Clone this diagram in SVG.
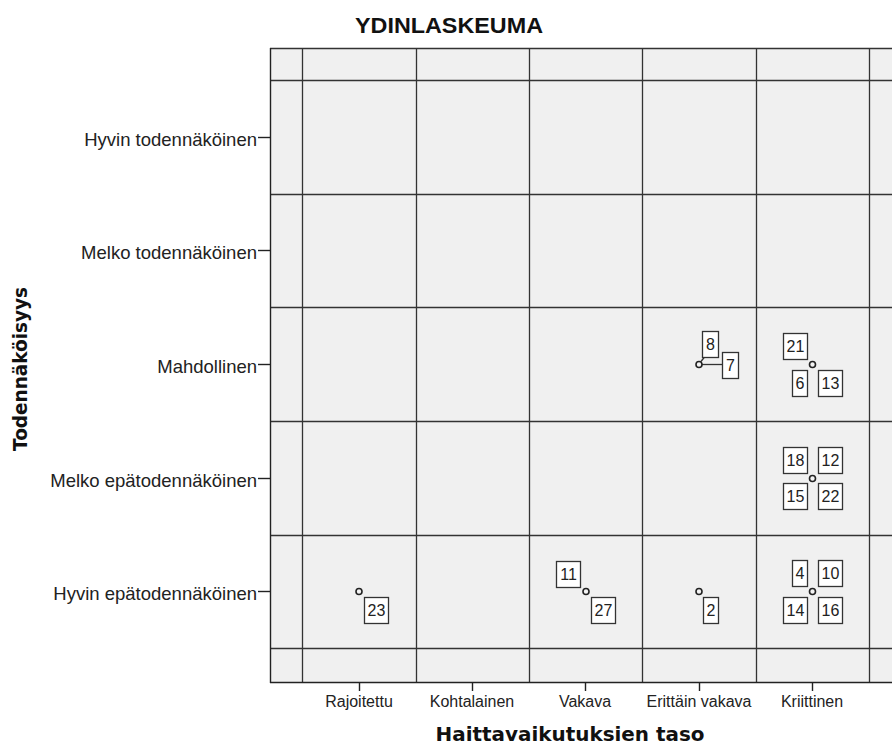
<svg xmlns="http://www.w3.org/2000/svg" width="892" height="745" viewBox="0 0 892 745">
  <style>
    .grid { stroke: #333; stroke-width: 1.3; fill: none; }
    .axis { stroke: #222; stroke-width: 1.4; fill: none; }
    .tick { stroke: #222; stroke-width: 1.4; }
    .rowlab { font-family: "Liberation Sans", Arial, sans-serif; font-size: 18.5px; fill: #222; text-anchor: end; }
    .collab { font-family: "Liberation Sans", Arial, sans-serif; font-size: 16px; fill: #222; text-anchor: middle; }
    .title { font-family: "Liberation Sans", Arial, sans-serif; font-size: 22.5px; font-weight: bold; fill: #111; text-anchor: middle; }
    .axtitle { font-family: "DejaVu Sans", Verdana, sans-serif; font-size: 19.5px; font-weight: bold; fill: #111; text-anchor: middle; }
    .pt { fill: #f4f4f4; stroke: #222; stroke-width: 1.6; }
    .box rect { fill: #ffffff; stroke: #333; stroke-width: 1.3; }
    .box text { font-family: "Liberation Sans", Arial, sans-serif; font-size: 16px; fill: #222; text-anchor: middle; }
    .lead { stroke: #333; stroke-width: 1.3; }
  </style>

  <!-- title -->
  <text class="title" x="449" y="33" textLength="188" lengthAdjust="spacingAndGlyphs">YDINLASKEUMA</text>

  <!-- plot area -->
  <g id="plot">
    <rect x="270" y="48" width="622" height="634" fill="#f0f0f0"/>
    <g class="grid">
      <line x1="270" y1="48.5" x2="892" y2="48.5"/>
      <line x1="270" y1="80.5" x2="892" y2="80.5"/>
      <line x1="270" y1="194.5" x2="892" y2="194.5"/>
      <line x1="270" y1="307.5" x2="892" y2="307.5"/>
      <line x1="270" y1="421.5" x2="892" y2="421.5"/>
      <line x1="270" y1="535.5" x2="892" y2="535.5"/>
      <line x1="270" y1="648.5" x2="892" y2="648.5"/>
      <line x1="302.5" y1="48" x2="302.5" y2="682"/>
      <line x1="416.5" y1="48" x2="416.5" y2="682"/>
      <line x1="529.5" y1="48" x2="529.5" y2="682"/>
      <line x1="642.5" y1="48" x2="642.5" y2="682"/>
      <line x1="756.5" y1="48" x2="756.5" y2="682"/>
      <line x1="869.5" y1="48" x2="869.5" y2="682"/>
    </g>
    <g class="axis">
      <line x1="270.5" y1="48" x2="270.5" y2="683"/>
      <line x1="270" y1="682.5" x2="892" y2="682.5"/>
    </g>
  </g>

  <!-- y axis: ticks and category labels -->
  <g id="y-axis">
    <g class="tick">
      <line x1="258" y1="137.5" x2="270" y2="137.5"/>
      <line x1="258" y1="250.5" x2="270" y2="250.5"/>
      <line x1="258" y1="364.5" x2="270" y2="364.5"/>
      <line x1="258" y1="478.5" x2="270" y2="478.5"/>
      <line x1="258" y1="591.5" x2="270" y2="591.5"/>
    </g>
    <text class="rowlab" x="257" y="146">Hyvin todennäköinen</text>
    <text class="rowlab" x="257" y="259">Melko todennäköinen</text>
    <text class="rowlab" x="257" y="373">Mahdollinen</text>
    <text class="rowlab" x="257" y="487">Melko epätodennäköinen</text>
    <text class="rowlab" x="257" y="600">Hyvin epätodennäköinen</text>
    <text class="axtitle" transform="translate(27,369) rotate(-90)" textLength="164" lengthAdjust="spacingAndGlyphs">Todennäköisyys</text>
  </g>

  <!-- x axis: ticks and category labels -->
  <g id="x-axis">
    <g class="tick">
      <line x1="359.5" y1="682" x2="359.5" y2="691"/>
      <line x1="472.5" y1="682" x2="472.5" y2="691"/>
      <line x1="585.5" y1="682" x2="585.5" y2="691"/>
      <line x1="699.5" y1="682" x2="699.5" y2="691"/>
      <line x1="812.5" y1="682" x2="812.5" y2="691"/>
    </g>
    <text class="collab" x="359" y="707">Rajoitettu</text>
    <text class="collab" x="472" y="707">Kohtalainen</text>
    <text class="collab" x="585" y="707">Vakava</text>
    <text class="collab" x="699" y="707">Erittäin vakava</text>
    <text class="collab" x="812" y="707">Kriittinen</text>
    <text class="axtitle" x="570" y="741" textLength="269" lengthAdjust="spacingAndGlyphs">Haittavaikutuksien taso</text>
  </g>

  <!-- leader lines from points to their case labels -->
  <g id="connectors">
    <line class="lead" x1="702" y1="364.5" x2="722" y2="364.5"/>
    <line class="lead" x1="701" y1="361.5" x2="704.5" y2="357"/>
  </g>

  <!-- Mahdollinen / Erittäin vakava -->
  <g id="p-mahd-erit">
    <g class="box"><rect x="702.5" y="331.5" width="16" height="26"/><text x="710.5" y="350">8</text></g>
    <g class="box"><rect x="722.5" y="352.5" width="16" height="26"/><text x="730.5" y="371">7</text></g>
    <circle class="pt" cx="699" cy="364.5" r="3"/>
  </g>

  <!-- Mahdollinen / Kriittinen -->
  <g id="p-mahd-krit">
    <g class="box"><rect x="783.5" y="333.5" width="24" height="26"/><text x="795.5" y="352">21</text></g>
    <g class="box"><rect x="792.5" y="370.5" width="15" height="26"/><text x="800" y="389">6</text></g>
    <g class="box"><rect x="818.5" y="370.5" width="24" height="26"/><text x="830.5" y="389">13</text></g>
    <circle class="pt" cx="812.5" cy="364.5" r="3"/>
  </g>

  <!-- Melko epätodennäköinen / Kriittinen -->
  <g id="p-melkoep-krit">
    <g class="box"><rect x="783.5" y="447.5" width="24" height="26"/><text x="795.5" y="466">18</text></g>
    <g class="box"><rect x="818.5" y="447.5" width="24" height="26"/><text x="830.5" y="466">12</text></g>
    <g class="box"><rect x="783.5" y="483.5" width="24" height="26"/><text x="795.5" y="502">15</text></g>
    <g class="box"><rect x="818.5" y="483.5" width="24" height="26"/><text x="830.5" y="502">22</text></g>
    <circle class="pt" cx="812.5" cy="478.5" r="3"/>
  </g>

  <!-- Hyvin epätodennäköinen / Rajoitettu -->
  <g id="p-hyvinep-raj">
    <g class="box"><rect x="364.5" y="597.5" width="24" height="26"/><text x="376.5" y="616">23</text></g>
    <circle class="pt" cx="359" cy="591.5" r="3"/>
  </g>

  <!-- Hyvin epätodennäköinen / Vakava -->
  <g id="p-hyvinep-vak">
    <g class="box"><rect x="556.5" y="561.5" width="24" height="26"/><text x="568.5" y="580">11</text></g>
    <g class="box"><rect x="591.5" y="597.5" width="24" height="26"/><text x="603.5" y="616">27</text></g>
    <circle class="pt" cx="586" cy="591.5" r="3"/>
  </g>

  <!-- Hyvin epätodennäköinen / Erittäin vakava -->
  <g id="p-hyvinep-erit">
    <g class="box"><rect x="703.5" y="597.5" width="15" height="26"/><text x="711" y="616">2</text></g>
    <circle class="pt" cx="699" cy="591.5" r="3"/>
  </g>

  <!-- Hyvin epätodennäköinen / Kriittinen -->
  <g id="p-hyvinep-krit">
    <g class="box"><rect x="792.5" y="560.5" width="15" height="26"/><text x="800" y="579">4</text></g>
    <g class="box"><rect x="818.5" y="560.5" width="24" height="26"/><text x="830.5" y="579">10</text></g>
    <g class="box"><rect x="783.5" y="597.5" width="24" height="26"/><text x="795.5" y="616">14</text></g>
    <g class="box"><rect x="818.5" y="597.5" width="24" height="26"/><text x="830.5" y="616">16</text></g>
    <circle class="pt" cx="812.5" cy="591.5" r="3"/>
  </g>
</svg>
